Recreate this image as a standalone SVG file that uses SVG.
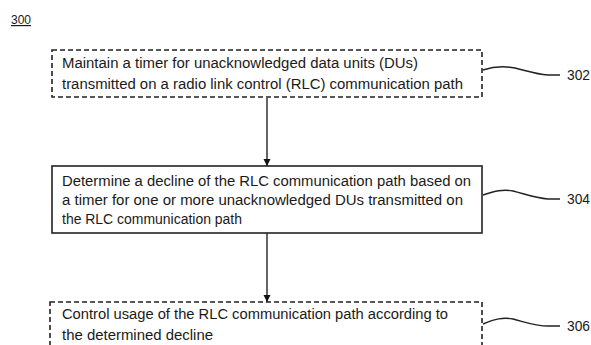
<svg xmlns="http://www.w3.org/2000/svg" width="591" height="345" viewBox="0 0 591 345">
<defs>
<style>
.t{font-family:"Liberation Sans",Arial,sans-serif;font-size:14px;fill:#1a1a1a}
.box{fill:none;stroke:#222;stroke-width:1.6}
.dash{stroke-dasharray:5 3}
.conn{fill:none;stroke:#111;stroke-width:1.3}
.sq{fill:none;stroke:#222;stroke-width:1.4}
</style>
<marker id="ah" markerWidth="8" markerHeight="8" refX="7" refY="4" orient="auto" markerUnits="userSpaceOnUse">
<path d="M0,0.5 L7,4 L0,7.5 Z" fill="#111"/>
</marker>
</defs>
<rect width="591" height="345" fill="#fff"/>
<g id="title">
<text class="t" x="11" y="24" text-decoration="underline" style="font-size:12px">300</text>
</g>
<g id="connectors">
<line class="conn" x1="267" y1="98" x2="267" y2="166" marker-end="url(#ah)"/>
<line class="conn" x1="267" y1="233" x2="267" y2="302" marker-end="url(#ah)"/>
</g>
<g id="n302">
<rect class="box dash" x="52" y="50" width="430" height="47"/>
<text class="t" x="62" y="68" textLength="356" lengthAdjust="spacingAndGlyphs">Maintain a timer for unacknowledged data units (DUs)</text>
<text class="t" x="62" y="89" textLength="401" lengthAdjust="spacingAndGlyphs">transmitted on a radio link control (RLC) communication path</text>
<path class="sq" d="M483,70 C495,66 505,66 515,68 C528,71 535,74 548,75 L560,75"/>
<text class="t" x="567" y="80" textLength="23" lengthAdjust="spacingAndGlyphs">302</text>
</g>
<g id="n304">
<rect class="box" x="52" y="166" width="430" height="67"/>
<text class="t" x="62" y="186" textLength="409" lengthAdjust="spacingAndGlyphs">Determine a decline of the RLC communication path based on</text>
<text class="t" x="62" y="205" textLength="401" lengthAdjust="spacingAndGlyphs">a timer for one or more unacknowledged DUs transmitted on</text>
<text class="t" x="62" y="224" textLength="180" lengthAdjust="spacingAndGlyphs">the RLC communication path</text>
<path class="sq" d="M483,195 C495,191 503,189 513,191 C525,194 535,198 548,199 L560,199"/>
<text class="t" x="567" y="204" textLength="23" lengthAdjust="spacingAndGlyphs">304</text>
</g>
<g id="n306">
<rect class="box dash" x="50" y="302" width="432" height="70"/>
<text class="t" x="62" y="319" textLength="386" lengthAdjust="spacingAndGlyphs">Control usage of the RLC communication path according to</text>
<text class="t" x="62" y="340" textLength="151" lengthAdjust="spacingAndGlyphs">the determined decline</text>
<path class="sq" d="M483,324 C495,319 503,317 513,319 C525,322 535,326 548,326 L560,326"/>
<text class="t" x="567" y="331" textLength="23" lengthAdjust="spacingAndGlyphs">306</text>
</g>
</svg>
